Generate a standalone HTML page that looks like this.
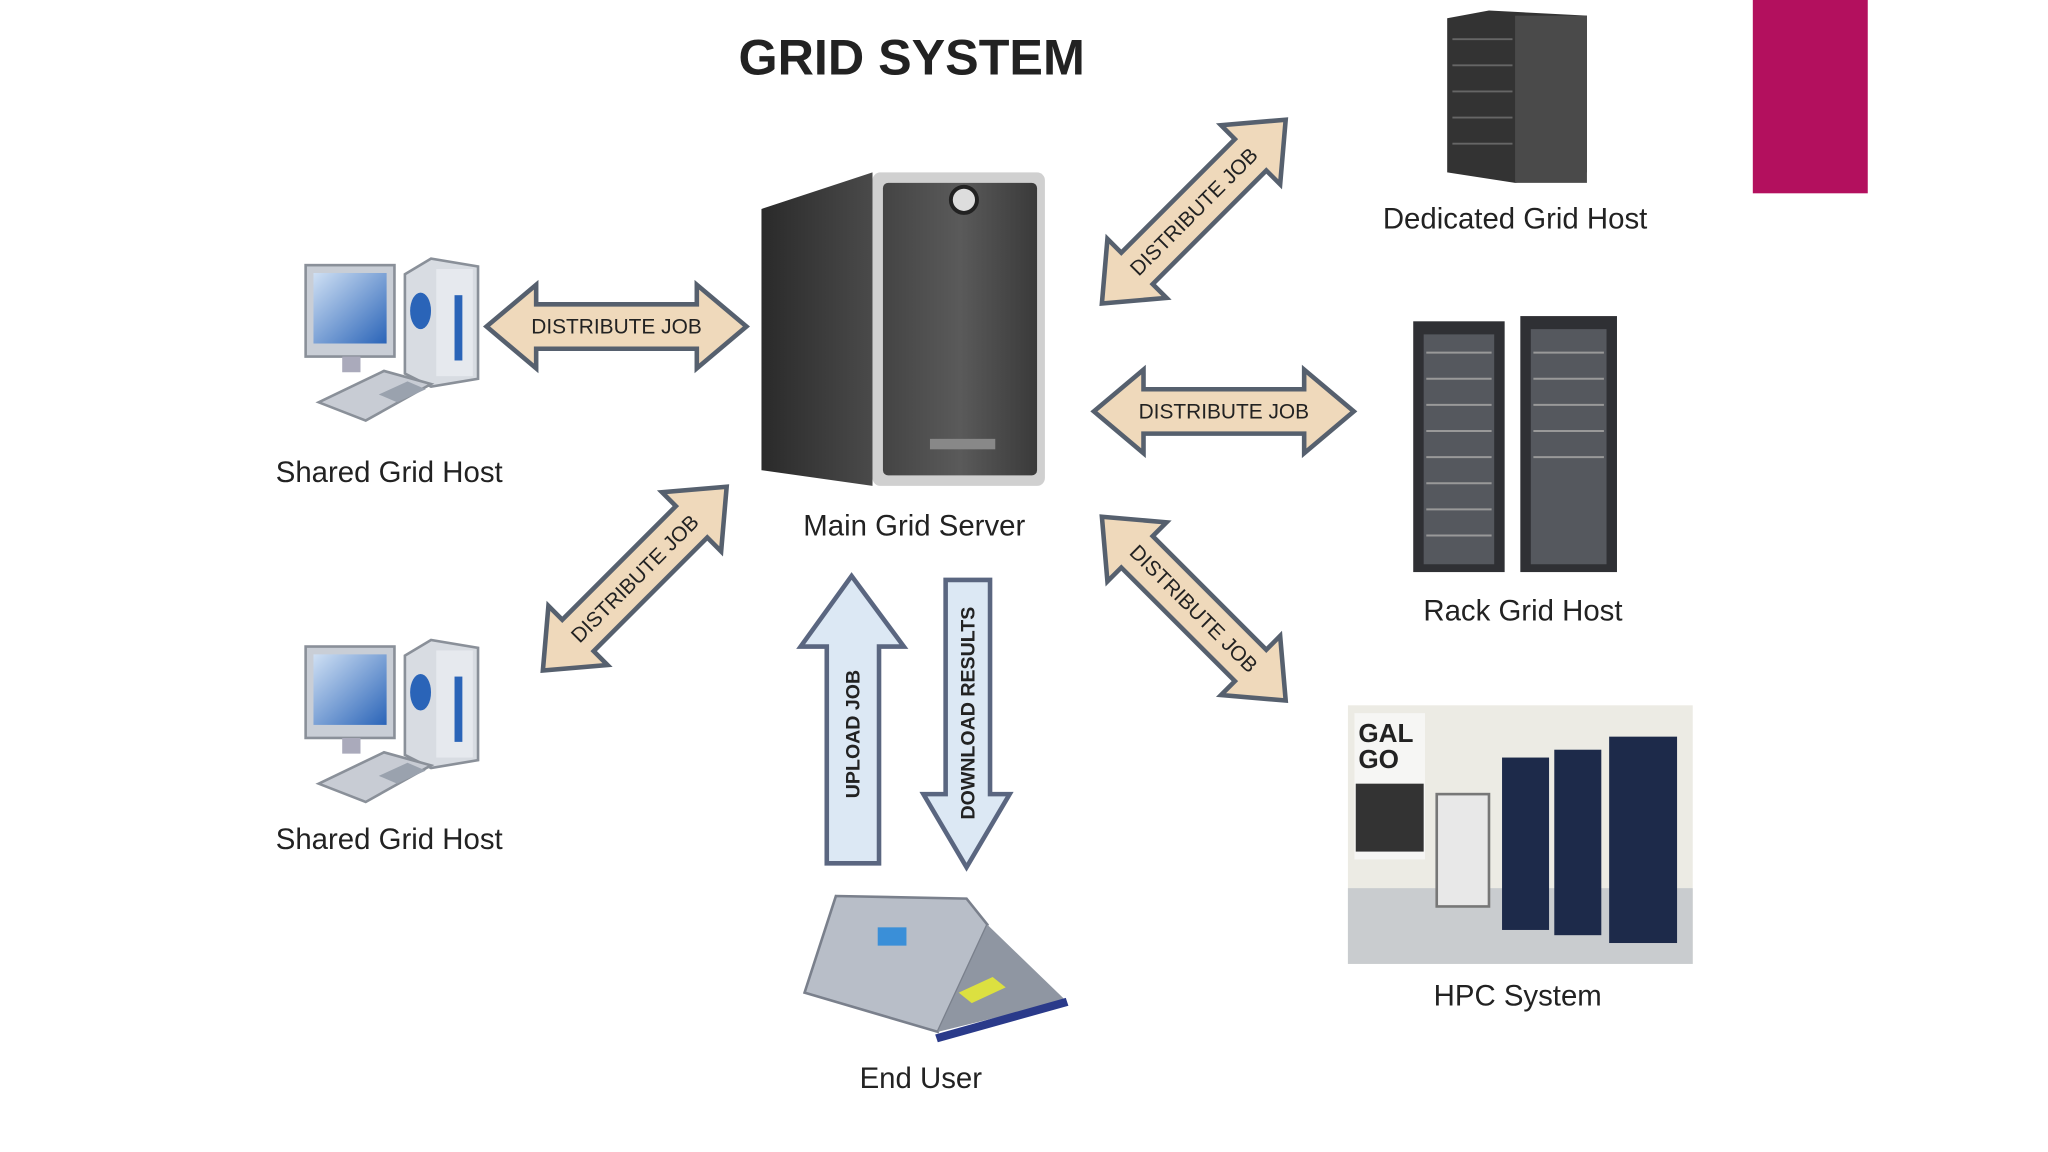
<!DOCTYPE html>
<html><head><meta charset="utf-8"><style>
html,body{margin:0;padding:0;background:#fff;}
svg{display:block;}
text{font-family:"Liberation Sans",Arial,sans-serif;}
</style></head><body>
<svg width="2048" height="1152" viewBox="0 0 1568 882" preserveAspectRatio="none" xmlns="http://www.w3.org/2000/svg">
<defs>
<polygon id="da" points="-99.5,0 -61.5,-32 -61.5,-17 61.5,-17 61.5,-32 99.5,0 61.5,32 61.5,17 -61.5,17 -61.5,32" fill="#efd9bb" stroke="#56606e" stroke-width="3.5" stroke-linejoin="miter"/>
<linearGradient id="srv" x1="0" x2="1"><stop offset="0" stop-color="#2a2a2a"/><stop offset="1" stop-color="#4a4a4a"/></linearGradient>
<linearGradient id="front" x1="0" x2="1"><stop offset="0" stop-color="#444"/><stop offset="0.5" stop-color="#5a5a5a"/><stop offset="1" stop-color="#3a3a3a"/></linearGradient>
<linearGradient id="mon" x1="0" y1="0" x2="1" y2="1"><stop offset="0" stop-color="#cfe0f4"/><stop offset="1" stop-color="#2a64b8"/></linearGradient>
<g id="pc">
 <rect x="0" y="5" width="68" height="70" fill="#c9ced6" stroke="#8a9099" stroke-width="2"/>
 <rect x="6" y="11" width="56" height="54" fill="url(#mon)"/>
 <rect x="28" y="75" width="14" height="12" fill="#aab"/>
 <polygon points="76,12 96,0 132,6 132,92 96,98 76,88" fill="#d8dce2" stroke="#8a9099" stroke-width="2"/>
 <rect x="100" y="8" width="28" height="82" fill="#e6e9ee"/>
 <ellipse cx="88" cy="40" rx="8" ry="14" fill="#2a64b8"/>
 <rect x="114" y="28" width="6" height="50" fill="#2a64b8"/>
 <polygon points="10,110 60,86 96,96 46,124" fill="#c8ccd4" stroke="#8a9099" stroke-width="2"/>
 <polygon points="56,104 78,94 92,100 70,110" fill="#9aa2ae"/>
</g>
</defs>
<rect x="1342" y="0" width="88" height="148" fill="#b3105e"/>
<text x="698" y="57" font-size="38.5" font-weight="bold" text-anchor="middle" fill="#222">GRID SYSTEM</text>

<!-- main server -->
<polygon points="583,160 668,132 668,372 583,360" fill="url(#srv)"/>
<rect x="668" y="132" width="132" height="240" rx="6" fill="#d0d0d0"/>
<rect x="676" y="140" width="118" height="224" rx="4" fill="url(#front)"/>
<circle cx="738" cy="153" r="10" fill="#ddd" stroke="#222" stroke-width="3"/>
<rect x="712" y="336" width="50" height="8" fill="#888"/>
<text x="700" y="410" font-size="22.5" text-anchor="middle" fill="#222">Main Grid Server</text>

<!-- shared hosts -->
<use href="#pc" x="234" y="198"/>
<text x="298" y="369" font-size="22.5" text-anchor="middle" fill="#222">Shared Grid Host</text>
<use href="#pc" x="234" y="490"/>
<text x="298" y="650" font-size="22.5" text-anchor="middle" fill="#222">Shared Grid Host</text>

<!-- dedicated -->
<polygon points="1108,14 1140,8 1215,12 1215,132 1160,140 1108,132" fill="#333"/>
<rect x="1160" y="12" width="55" height="128" fill="#4a4a4a"/>
<g stroke="#666" stroke-width="1.5"><line x1="1112" y1="30" x2="1158" y2="30"/><line x1="1112" y1="50" x2="1158" y2="50"/><line x1="1112" y1="70" x2="1158" y2="70"/><line x1="1112" y1="90" x2="1158" y2="90"/><line x1="1112" y1="110" x2="1158" y2="110"/></g>
<text x="1160" y="175" font-size="22.5" text-anchor="middle" fill="#222">Dedicated Grid Host</text>

<!-- rack -->
<rect x="1082" y="246" width="70" height="192" fill="#2f3034"/>
<rect x="1090" y="256" width="54" height="176" fill="#55585e"/>
<rect x="1164" y="242" width="74" height="196" fill="#2f3034"/>
<rect x="1172" y="252" width="58" height="180" fill="#55585e"/>
<g stroke="#999" stroke-width="1.5">
<line x1="1092" y1="270" x2="1142" y2="270"/><line x1="1092" y1="290" x2="1142" y2="290"/><line x1="1092" y1="310" x2="1142" y2="310"/><line x1="1092" y1="330" x2="1142" y2="330"/><line x1="1092" y1="350" x2="1142" y2="350"/><line x1="1092" y1="370" x2="1142" y2="370"/><line x1="1092" y1="390" x2="1142" y2="390"/><line x1="1092" y1="410" x2="1142" y2="410"/>
<line x1="1174" y1="270" x2="1228" y2="270"/><line x1="1174" y1="290" x2="1228" y2="290"/><line x1="1174" y1="310" x2="1228" y2="310"/><line x1="1174" y1="330" x2="1228" y2="330"/><line x1="1174" y1="350" x2="1228" y2="350"/>
</g>
<text x="1166" y="475" font-size="22.5" text-anchor="middle" fill="#222">Rack Grid Host</text>

<!-- HPC -->
<rect x="1032" y="540" width="264" height="198" fill="#ecebe4"/>
<rect x="1032" y="680" width="264" height="58" fill="#c9cccf"/>
<rect x="1037" y="546" width="54" height="112" fill="#f6f6f4"/>
<text x="1040" y="568" font-size="20" font-weight="bold" fill="#222">GAL</text>
<text x="1040" y="588" font-size="20" font-weight="bold" fill="#222">GO</text>
<rect x="1038" y="600" width="52" height="52" fill="#333"/>
<rect x="1100" y="608" width="40" height="86" fill="#e8e8e8" stroke="#777" stroke-width="2"/>
<rect x="1150" y="580" width="36" height="132" fill="#1d2a4a"/>
<rect x="1190" y="574" width="36" height="142" fill="#1d2a4a"/>
<rect x="1232" y="564" width="52" height="158" fill="#1d2a4a"/>
<text x="1162" y="770" font-size="22.5" text-anchor="middle" fill="#222">HPC System</text>

<!-- laptop -->
<polygon points="640,686 740,688 756,708 718,790 616,760" fill="#b8bec8" stroke="#7a808c" stroke-width="2"/>
<rect x="672" y="710" width="22" height="14" fill="#3a8fd8"/>
<polygon points="718,790 756,708 816,766" fill="#8f96a2"/>
<polygon points="716,792 816,764 818,770 718,798" fill="#2a3a8a"/>
<polygon points="734,760 760,748 770,756 744,768" fill="#dce040"/>
<text x="705" y="833" font-size="22.5" text-anchor="middle" fill="#222">End User</text>

<!-- distribute arrows -->
<g transform="translate(472,250)"><use href="#da"/><text y="5.5" font-size="16" text-anchor="middle" fill="#222">DISTRIBUTE JOB</text></g>
<g transform="translate(937,315)"><use href="#da"/><text y="5.5" font-size="16" text-anchor="middle" fill="#222">DISTRIBUTE JOB</text></g>
<g transform="translate(914,162) rotate(-45)"><use href="#da"/><text y="5.5" font-size="16" text-anchor="middle" fill="#222">DISTRIBUTE JOB</text></g>
<g transform="translate(486,443) rotate(-45)"><use href="#da"/><text y="5.5" font-size="16" text-anchor="middle" fill="#222">DISTRIBUTE JOB</text></g>
<g transform="translate(914,466) rotate(45)"><use href="#da"/><text y="5.5" font-size="16" text-anchor="middle" fill="#222">DISTRIBUTE JOB</text></g>

<!-- upload / download -->
<polygon points="652,441 692,495 673,495 673,661 633,661 633,495 613,495" fill="#dce8f4" stroke="#5a6680" stroke-width="3.5"/>
<text transform="translate(658,562) rotate(-90)" font-size="15" font-weight="bold" text-anchor="middle" fill="#222">UPLOAD JOB</text>
<polygon points="724,444 758,444 758,608 773,608 740,664 707,608 724,608" fill="#dce8f4" stroke="#5a6680" stroke-width="3.5"/>
<text transform="translate(746,546) rotate(-90)" font-size="15" font-weight="bold" text-anchor="middle" fill="#222">DOWNLOAD RESULTS</text>
</svg>
</body></html>
